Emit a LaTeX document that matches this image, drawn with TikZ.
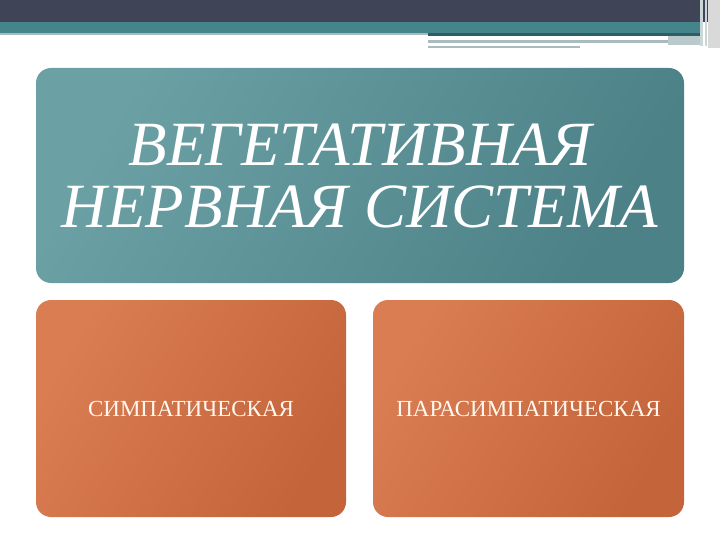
\documentclass[tikz,border=0pt]{standalone}
\usepackage{fontspec}
\setmainfont{Liberation Serif}
\definecolor{barDark}{HTML}{3F4556}
\definecolor{barTeal}{HTML}{43858A}
\definecolor{lineGray}{HTML}{A9BBBE}
\definecolor{tealLight}{HTML}{6BA0A5}
\definecolor{tealDark}{HTML}{4C8187}
\definecolor{orangeLight}{HTML}{DB7D53}
\definecolor{orangeDark}{HTML}{C3643A}
\definecolor{textCream}{HTML}{FFF8F0}

\begin{document}
\begin{tikzpicture}[x=1pt, y=-1pt, rounded corners=15pt,
  mainbox/.style={shading=axis, left color=tealLight, right color=tealDark, shading angle=60,
    minimum width=648pt, minimum height=215pt, align=center, text=white,
    font=\fontsize{63}{62}\selectfont\itshape},
  subbox/.style={shading=axis, left color=orangeLight, right color=orangeDark, shading angle=60,
    minimum height=217pt, text=textCream, font=\fontsize{23}{25}\selectfont}]
\useasboundingbox (0,0) rectangle (720,540);
\fill[white] (0,0) rectangle (720,540);
% top bar
\begin{scope}[sharp corners]
\fill[barDark] (0,0) rectangle (720,22);
\fill[barTeal] (0,22) rectangle (700,33);
\fill[lineGray] (0,33) rectangle (428,35);
\fill[barTeal!70!black] (428,33) rectangle (700,36);
\fill[lineGray] (428,40) rectangle (668,43);
\fill[lineGray] (428,46) rectangle (580,48);
\fill[lineGray!80] (668,36) rectangle (700,45);
\fill[black!15!white] (708,0) rectangle (720,48);
\fill[lineGray!60] (700,0) rectangle (703,46);
\fill[lineGray!60] (705,0) rectangle (707,46);
\end{scope}
% boxes
\node[mainbox] (ans) at (360,175.5) {ВЕГЕТАТИВНАЯ\\НЕРВНАЯ СИСТЕМА};
\node[subbox, minimum width=310pt] (symp) at (191,408.5) {СИМПАТИЧЕСКАЯ};
\node[subbox, minimum width=311pt] (para) at (528.5,408.5) {ПАРАСИМПАТИЧЕСКАЯ};
\end{tikzpicture}
\end{document}
